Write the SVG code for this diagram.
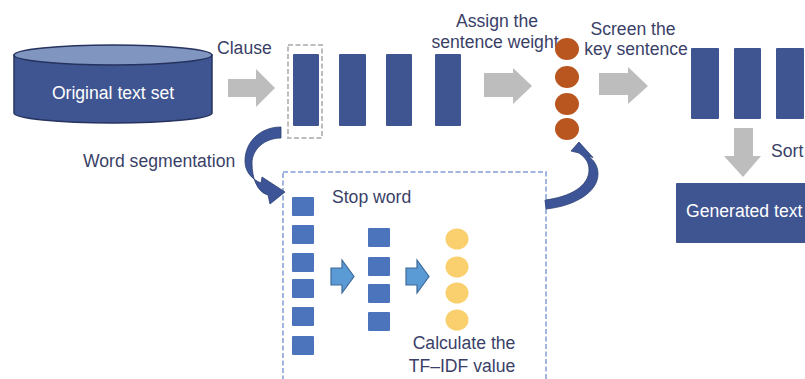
<svg xmlns="http://www.w3.org/2000/svg" width="805" height="379" viewBox="0 0 805 379">
<style>
text{font-family:"Liberation Sans",Arial,sans-serif;font-size:17.6px;fill:#3A3F68}
.w{fill:#FFFFFF}
.bar{fill:#3F5591}
.garrow{fill:#BDBDBD}
.orange{fill:#B9561F}
.yellow{fill:#F9D06D}
.sq{fill:#4C74BC}
.barrow{fill:#5B9BD5;stroke:#3E6A98;stroke-width:1.2}
.curve{fill:#3D5596;stroke:#2E4175;stroke-width:0.8}
</style>
<rect width="805" height="379" fill="#FFFFFF"/>

<g id="original-text-set">
<path d="M14,55 L14,113 A99,10 0 0 0 212,113 L212,55 Z" fill="#3F5591" stroke="#26335F" stroke-width="1.5"/>
<ellipse cx="113" cy="55" rx="99" ry="10" fill="#8096C0" stroke="#26335F" stroke-width="1.5"/>
<text class="w" x="113" y="99" text-anchor="middle">Original text set</text>
</g>

<g id="label-clause"><text x="217" y="54">Clause</text></g>

<g id="sentences">
<rect x="288" y="45" width="34" height="93" fill="none" stroke="#BDBDBD" stroke-width="2" stroke-dasharray="5,2.5"/>
<rect class="bar" x="293" y="54" width="26" height="72" rx="1"/>
<rect class="bar" x="339" y="54" width="27" height="72" rx="1"/>
<rect class="bar" x="386" y="54" width="26" height="72" rx="1"/>
<rect class="bar" x="435" y="54" width="26" height="72" rx="1"/>
</g>

<g id="label-assign">
<text x="497" y="27" text-anchor="middle">Assign the</text>
<text x="495" y="48" text-anchor="middle">sentence weight</text>
</g>

<g id="weights">
<ellipse class="orange" cx="567" cy="49" rx="12" ry="11"/>
<ellipse class="orange" cx="567" cy="77" rx="12" ry="11"/>
<ellipse class="orange" cx="567" cy="104" rx="12" ry="11"/>
<ellipse class="orange" cx="567" cy="129" rx="12" ry="11"/>
</g>

<g id="label-screen">
<text x="633" y="35" text-anchor="middle">Screen the</text>
<text x="636" y="55" text-anchor="middle">key sentence</text>
</g>

<g id="key-sentences">
<rect class="bar" x="691" y="48" width="28" height="71" rx="1"/>
<rect class="bar" x="734" y="48" width="27" height="71" rx="1"/>
<rect class="bar" x="776" y="48" width="28" height="71" rx="1"/>
</g>

<g id="label-sort"><text x="771" y="157">Sort</text></g>

<g id="generated-text">
<rect class="bar" x="676" y="183" width="140" height="60" rx="1"/>
<text class="w" x="686" y="217">Generated text</text>
</g>

<g id="label-word-segmentation"><text x="83" y="167">Word segmentation</text></g>

<g id="word-processing">
<rect x="283" y="172" width="263" height="220" fill="none" stroke="#A0B5E0" stroke-width="2" stroke-dasharray="5,2.5"/>
<text x="332" y="203">Stop word</text>
<rect class="sq" x="292" y="197" width="22" height="19" rx="1"/>
<rect class="sq" x="292" y="225" width="22" height="19" rx="1"/>
<rect class="sq" x="292" y="253" width="22" height="19" rx="1"/>
<rect class="sq" x="292" y="279" width="22" height="19" rx="1"/>
<rect class="sq" x="292" y="307" width="22" height="19" rx="1"/>
<rect class="sq" x="292" y="336" width="22" height="19" rx="1"/>
<rect class="sq" x="368" y="228" width="22" height="19" rx="1"/>
<rect class="sq" x="368" y="257" width="22" height="19" rx="1"/>
<rect class="sq" x="368" y="284" width="22" height="19" rx="1"/>
<rect class="sq" x="368" y="312" width="22" height="19" rx="1"/>
<ellipse class="yellow" cx="457" cy="239" rx="11.5" ry="10.5"/>
<ellipse class="yellow" cx="457" cy="267" rx="11.5" ry="10.5"/>
<ellipse class="yellow" cx="457" cy="293" rx="11.5" ry="10.5"/>
<ellipse class="yellow" cx="457" cy="320" rx="11.5" ry="10.5"/>
<text x="464" y="349" text-anchor="middle">Calculate the</text>
<text x="462" y="372" text-anchor="middle">TF–IDF value</text>
</g>

<g id="connectors">
<path class="garrow" d="M228,79 L256,79 L256,69 L275,88 L256,107 L256,97 L228,97 Z"/>
<path class="garrow" d="M484,73 L513,73 L513,68 L532,86 L513,104 L513,97 L484,97 Z"/>
<path class="garrow" d="M599,73 L628,73 L628,67 L648,86 L628,104 L628,95 L599,95 Z"/>
<path class="garrow" d="M734,128 L753,128 L753,156 L761,156 L743,177 L724,156 L734,156 Z"/>
<path class="barrow" d="M331,268 L342,268 L342,260 L354,276.5 L342,293 L342,285 L331,285 Z"/>
<path class="barrow" d="M406,268 L417,268 L417,260 L429,276.5 L417,293 L417,285 L406,285 Z"/>
<path class="curve" d="M281,127 C260,127 245,142 245,161 C245,171 251,179 261,183 L262,177 L285,192 L270,204 L268,195 C257,192 252,178 252,163 C252,150 264,138 281,138 Z"/>
<path class="curve" d="M546,209 C575,206 598,192 598,174 C598,166 594,160 588,156 L593,157.5 L579,142 L571,151 L579,153 C586,158 589,163 589,170 C589,186 570,197 545,200 Z"/>
</g>
</svg>
